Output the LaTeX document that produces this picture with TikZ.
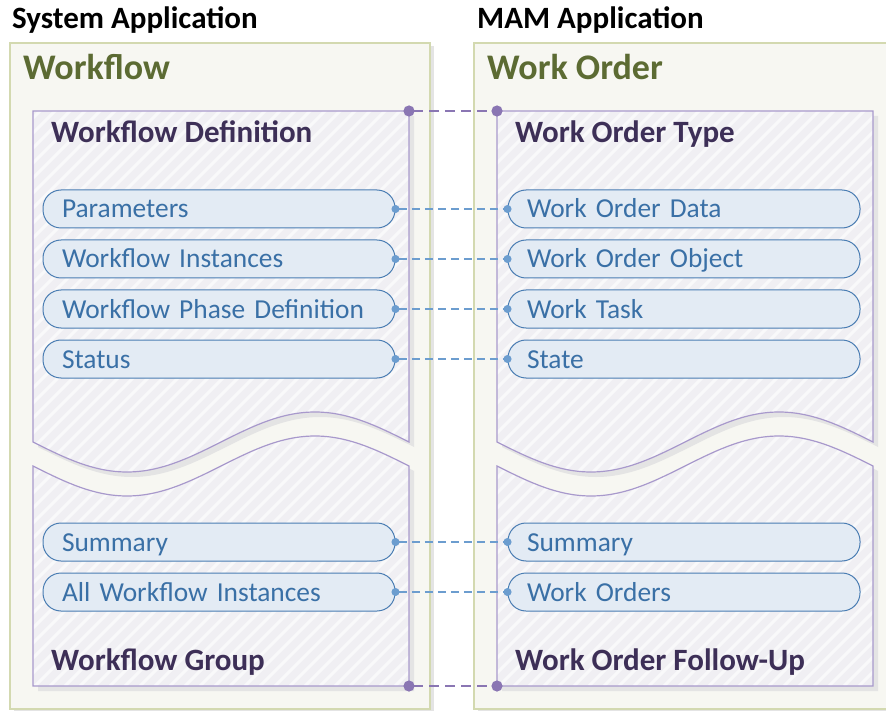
\documentclass[tikz,border=0pt]{standalone}
\usepackage{fontspec}
\setmainfont{Carlito}
\usepackage{xcolor}
\usetikzlibrary{arrows.meta, positioning}

\definecolor{panelfill}{HTML}{F7F7F2}
\definecolor{panelline}{HTML}{D3D9B0}
\definecolor{panelhead}{HTML}{5C6B33}
\definecolor{groupfill}{HTML}{F0EFF3}
\definecolor{groupline}{HTML}{A899CC}
\definecolor{grouphead}{HTML}{3D2F57}
\definecolor{itemfill}{HTML}{E3EBF4}
\definecolor{itemline}{HTML}{4A7DB3}
\definecolor{itemtext}{HTML}{3A70A6}
\definecolor{linkblue}{HTML}{6C9DCF}
\definecolor{linkpurple}{HTML}{8A76B3}
\definecolor{dropgrey}{HTML}{E4E4E4}

\begin{document}
\begin{tikzpicture}[x=1pt, y=-1pt,
      node distance=11pt and 112pt,
      apptitle/.style={anchor=base west, inner sep=0pt, font=\bfseries\fontsize{31}{31}\selectfont},
      paneltitle/.style={anchor=base west, inner sep=0pt, text=panelhead, font=\bfseries\fontsize{36}{36}\selectfont},
      grouptitle/.style={anchor=base west, inner sep=0pt, text=grouphead, font=\bfseries\fontsize{31}{31}\selectfont},
      panel/.style={fill=panelfill, draw=panelline, line width=2pt},
      upperpart/.style={insert path={(33,111) -- (409,111) -- (409,442)
        sin (315,412) cos (221,442) sin (127,472) cos (33,442) -- cycle}},
      lowerpart/.style={insert path={(33,466) sin (127,496) cos (221,466)
        sin (315,436) cos (409,466) -- (409,686) -- (33,686) -- cycle}},
      groupedge/.style={draw=groupline, line width=1.2pt},
      hatch/.style={draw=white!60!groupfill, line width=3pt},
      drop/.style={fill=dropgrey},
      item/.style={draw=itemline, fill=itemfill, line width=1pt, rounded corners=18pt,
                   minimum width=352pt, minimum height=38pt, inner xsep=19pt, text width=314pt,
                   text height=24pt, text depth=6pt, align=left, text=itemtext,
                   font=\fontsize{27.4}{28}\selectfont,
                   preaction={draw=none, fill=dropgrey, xshift=3pt, yshift=-3pt}},
      link/.style={{Circle[length=8pt]}-{Circle[length=8pt]}, dash pattern=on 8pt off 5pt,
                   line width=1.5pt, linkblue, shorten <=-4pt, shorten >=-4pt},
      bridge/.style={{Circle[length=11pt]}-{Circle[length=11pt]}, dash pattern=on 10pt off 6pt,
                     line width=2.5pt, linkpurple, shorten <=-5.5pt, shorten >=-5.5pt}]
    \useasboundingbox (0,0) rectangle (886,711);
    % two application panels, the right one shifted over
    \foreach \dx in {0,464} {
      \begin{scope}[xshift=\dx]
        \path[drop, xshift=4, yshift=-3] (10,43) rectangle (430,709);
        \draw[panel] (10,43) rectangle (430,709);
        \path[drop, xshift=5, yshift=-5, upperpart];
        \path[drop, xshift=5, yshift=-5, lowerpart];
        \begin{scope}
          \clip[upperpart];
          \fill[groupfill] (33,111) rectangle (409,686);
          \foreach \k in {-550,-535,...,410} \draw[hatch] (\k,686) -- ++(700,-700);
        \end{scope}
        \begin{scope}
          \clip[lowerpart];
          \fill[groupfill] (33,111) rectangle (409,686);
          \foreach \k in {-550,-535,...,410} \draw[hatch] (\k,686) -- ++(700,-700);
        \end{scope}
        \path[groupedge, upperpart];
        \path[groupedge, lowerpart];
      \end{scope}
    }
    % headings
    \node[apptitle] (sysapp) at (12,29) {System Application};
    \node[apptitle] (mamapp) at (477,29) {MAM Application};
    \node[paneltitle] (wf) at (23,80) {Workflow};
    \node[paneltitle] (wo) at (487,80) {Work Order};
    \node[grouptitle] (wfdef) at (51,143) {Workflow Definition};
    \node[grouptitle] (wotype) at (515,143) {Work Order Type};
    \node[grouptitle] (wfgroup) at (51,670) {Workflow Group};
    \node[grouptitle] (wofollow) at (515,670) {Work Order Follow-Up};
    % corners joined by the purple bridges
    \coordinate (defNE) at (409,111);
    \coordinate (typeNW) at (497,111);
    \coordinate (groupSE) at (409,686);
    \coordinate (followSW) at (497,686);
    % workflow items
    \node[item] (par) at (219,209) {Parameters};
    \node[item, below=of par] (inst) {Workflow Instances};
    \node[item, below=of inst] (phase) {Workflow Phase Definition};
    \node[item, below=of phase] (status) {Status};
    \node[item] (summ) at (219,542) {Summary};
    \node[item, below=of summ] (allinst) {All Workflow Instances};
    % work order items
    \node[item, right=of par] (data) {Work Order Data};
    \node[item, right=of inst] (object) {Work Order Object};
    \node[item, right=of phase] (task) {Work Task};
    \node[item, right=of status] (state) {State};
    \node[item, right=of summ] (wosumm) {Summary};
    \node[item, right=of allinst] (orders) {Work Orders};
    % mappings
    \draw[bridge] (defNE) -- (typeNW);
    \draw[bridge] (groupSE) -- (followSW);
    \draw[link] (par.east) -- (data.west);
    \draw[link] (inst.east) -- (object.west);
    \draw[link] (phase.east) -- (task.west);
    \draw[link] (status.east) -- (state.west);
    \draw[link] (summ.east) -- (wosumm.west);
    \draw[link] (allinst.east) -- (orders.west);
  \end{tikzpicture}
\end{document}
